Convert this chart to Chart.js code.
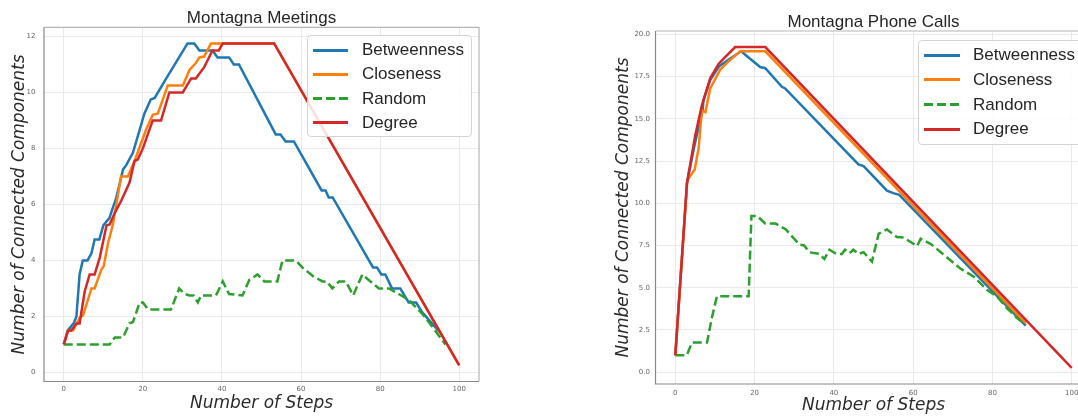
<!DOCTYPE html>
<html>
<head>
<meta charset="utf-8">
<script src="https://cdn.jsdelivr.net/npm/chart.js@4.4.1/dist/chart.umd.min.js"></script>
<style>
  html, body { margin: 0; padding: 0; width: 1078px; height: 416px; overflow: hidden; background: #fff; }
  canvas { position: absolute; top: 0; }
  .legend {
    position: absolute; box-sizing: border-box;
    border: 1px solid #d4d4d4; border-radius: 4px; background: rgba(255,255,255,0.85);
    font-family: "Liberation Sans", Arial, sans-serif; font-size: 17px; color: #262626;
  }
  .legend .swatch { position: absolute; height: 3px; }
  .legend .lbl { position: absolute; white-space: nowrap; line-height: 20px; height: 20px; }
</style>
</head>
<body>
<canvas id="meetings" width="540" height="416" style="left:0px"></canvas>
<canvas id="phone" width="560" height="416" style="left:560px"></canvas>
<div id="legendMeetings" class="legend"></div>
<div id="legendPhone" class="legend"></div>
<script>
// ── series names / colours (matplotlib tab10) ──
const SERIES = ['Betweenness', 'Closeness', 'Random', 'Degree'];
const COLORS = ['#1f77b4', '#ff7f0e', '#2ca02c', '#d62728'];

// ── shared x ticks ──
const STEP_TICKS = [0, 20, 40, 60, 80, 100];
const STEP_TICK_LABELS = ['0', '20', '40', '60', '80', '100'];

// ── Montagna Meetings ──
const MEET_Y_TICKS = [0, 2, 4, 6, 8, 10, 12];
const MEET_Y_TICK_LABELS = ['0', '2', '4', '6', '8', '10', '12'];

const meetBetweennessX = [0, 1, 2.5, 3.2, 4, 4.8, 6, 7, 7.8, 9, 10, 11.5, 13.3, 15, 15.8, 17.5, 20.4, 22, 23, 25.5, 31.3, 33, 34.3, 37.6, 38.9, 41.8, 43, 44.3, 53.6, 54.8, 56.1, 58.2, 65.2, 66.2, 67, 68, 78.2, 79.2, 80.3, 81.3, 83, 85.1, 87.2, 89.1, 90.6, 95];
const meetBetweennessY = [1, 1.5, 1.75, 2, 3.5, 4, 4, 4.25, 4.75, 4.75, 5.25, 5.5, 6.25, 7.25, 7.4, 7.85, 9.25, 9.75, 9.8, 10.4, 11.75, 11.75, 11.5, 11.5, 11.25, 11.25, 11, 11, 8.5, 8.5, 8.25, 8.25, 6.5, 6.5, 6.25, 6.25, 3.75, 3.75, 3.5, 3.5, 3, 3, 2.5, 2.5, 2.15, 1.45];

const meetClosenessX = [0, 1.1, 2.35, 4, 4.9, 7, 7.8, 9.5, 10.1, 11.2, 12.4, 14.5, 16.2, 17.9, 20.9, 22.5, 23.8, 26.3, 30.1, 31.8, 33.4, 34.3, 35.5, 37.2, 53.2, 100];
const meetClosenessY = [1, 1.5, 1.5, 1.95, 2.05, 3, 3, 3.67, 3.8, 4.62, 5.27, 7, 7, 7.55, 8.7, 9.2, 9.25, 10.25, 10.25, 10.8, 11.05, 11.25, 11.28, 11.75, 11.75, 0.25];

const meetRandomX = [0, 11.6, 12.9, 15, 16.6, 17.5, 19.2, 20, 21.3, 27.1, 29.2, 30.5, 31.8, 32.8, 33.9, 34.7, 38.5, 40.2, 41.8, 45.2, 46.9, 49, 50.7, 54, 55.3, 58.7, 60.3, 62.9, 65.4, 66.5, 67.9, 69.6, 71.3, 73.2, 75.5, 77.1, 79.7, 82.2, 84.7, 87.2, 90.6, 93.1, 96.5];
const meetRandomY = [1, 1, 1.25, 1.25, 1.75, 1.8, 2.5, 2.5, 2.25, 2.25, 3, 2.8, 2.75, 2.75, 2.5, 2.75, 2.75, 3.25, 2.8, 2.75, 3.3, 3.5, 3.25, 3.25, 4, 4, 3.75, 3.45, 3.25, 3.25, 3, 3.25, 3.25, 2.75, 3.5, 3.3, 3, 3, 2.8, 2.6, 2.1, 1.65, 1];

const meetDegreeX = [0, 1.1, 1.9, 3.2, 4, 5.3, 6.55, 7.8, 9.1, 10.8, 11.6, 12.9, 14.5, 16.6, 17.9, 18.7, 20, 22.5, 24.6, 26.7, 30.1, 32.2, 33.4, 35.5, 37.6, 39.2, 40.2, 53.2, 100];
const meetDegreeY = [1, 1.5, 1.5, 1.75, 1.75, 2.9, 3.5, 3.5, 4.1, 5.25, 5.28, 5.7, 6.12, 6.77, 7.55, 7.6, 8, 9, 9, 10, 10, 10.5, 10.5, 10.9, 11.5, 11.5, 11.75, 11.75, 0.25];

// ── Montagna Phone Calls ──
const PHONE_Y_TICKS = [0, 2.5, 5, 7.5, 10, 12.5, 15, 17.5, 20];
const PHONE_Y_TICK_LABELS = ['0.0', '2.5', '5.0', '7.5', '10.0', '12.5', '15.0', '17.5', '20.0'];

const phoneBetweennessX = [0, 2.94, 4.9, 6.9, 7.1, 8.8, 11, 13.4, 16.6, 21.4, 22.7, 26.9, 27.7, 46.2, 47.5, 53.4, 55, 56.5, 88.4];
const phoneBetweennessY = [1, 11.2, 13.5, 15.5, 16.1, 17.3, 18.1, 18.5, 19, 18.07, 18, 16.9, 16.8, 12.3, 12.2, 10.75, 10.6, 10.5, 2.75];

const phoneClosenessX = [0, 3, 3.4, 4.9, 5.9, 6.7, 7.6, 8.8, 11.3, 13.4, 16.4, 22.7, 88.4];
const phoneClosenessY = [1, 11.25, 11.5, 12, 13.3, 15.5, 15.4, 16.8, 17.9, 18.4, 19, 19, 2.9];

const phoneRandomX = [0, 2.9, 4.2, 8, 9.2, 10.5, 18.5, 19.2, 20.6, 22.7, 25.3, 27.9, 31.3, 32.5, 33.8, 36.4, 37.6, 38.9, 40.6, 42, 42.8, 44, 44.9, 46.2, 47.5, 49.6, 51.3, 53.4, 55.9, 57.6, 61, 61.9, 64.4, 66.9, 69.4, 71.9, 75.3, 78.7, 81.2, 83.7, 86.3, 88.4];
const phoneRandomY = [1, 1, 1.75, 1.75, 3.2, 4.5, 4.5, 9.25, 9.25, 8.8, 8.8, 8.45, 7.55, 7.5, 7.1, 7, 6.7, 7.25, 7, 7, 7.25, 7.05, 7.25, 7, 7.1, 6.54, 8.2, 8.45, 8, 7.97, 7.46, 7.9, 7.6, 7.12, 6.63, 6.14, 5.65, 4.86, 4.47, 3.78, 3.19, 2.8];

const phoneDegreeX = [0, 2.94, 5, 6.7, 8.8, 10.9, 13, 15.1, 22.7, 100];
const phoneDegreeY = [1, 11.2, 14, 15.8, 17.4, 18.25, 18.75, 19.25, 19.25, 0.25];

// ── helpers ──
const zip = (xs, ys) => xs.map((x, i) => ({ x: x, y: ys[i] }));

function makeDatasets(series) {
    // series in SERIES order; Degree drawn on top like matplotlib
    return series.map(([xs, ys], i) => ({
        label: SERIES[i],
        data: zip(xs, ys),
        borderColor: COLORS[i],
        backgroundColor: COLORS[i],
        borderWidth: 2.5,
        borderDash: SERIES[i] === 'Random' ? [9, 4] : [],
        pointRadius: 0,
        tension: 0,
        fill: false,
        order: series.length - i
    }));
}

// Frame round the plot area (darker left/bottom like the reference)
const framePlugin = {
    id: 'frame',
    afterDatasetsDraw(chart) {
        const { ctx, chartArea: a } = chart;
        ctx.save();
        ctx.lineWidth = 1.2;
        ctx.strokeStyle = '#b5b5b5';
        ctx.beginPath();
        ctx.moveTo(a.left, a.top); ctx.lineTo(a.right, a.top); ctx.lineTo(a.right, a.bottom);
        ctx.stroke();
        ctx.strokeStyle = '#888';
        ctx.beginPath();
        ctx.moveTo(a.left, a.top); ctx.lineTo(a.left, a.bottom); ctx.lineTo(a.right, a.bottom);
        ctx.stroke();
        ctx.restore();
    }
};

function buildChart(id, cfg) {
    const tickFont = { family: "'DejaVu Sans', sans-serif", size: 7 };
    const labelFont = { family: "'DejaVu Sans', sans-serif", size: 17, style: 'italic', lineHeight: 1.2 };
    return new Chart(document.getElementById(id), {
        type: 'line',
        data: { datasets: makeDatasets(cfg.series) },
        options: {
            responsive: false,
            animation: false,
            events: [],
            layout: { padding: { left: 0, right: cfg.padRight, top: 0, bottom: 0 } },
            scales: {
                x: {
                    type: 'linear', min: -5, max: 105,
                    afterBuildTicks: s => { s.ticks = STEP_TICKS.map(v => ({ value: v })); },
                    afterFit: s => { s.height = cfg.xHeight; },
                    ticks: { autoSkip: false, maxRotation: 0, padding: cfg.xTickPad, color: '#666', font: tickFont,
                             callback: (v, i) => STEP_TICK_LABELS[i] },
                    grid: { color: '#e9e9e9', lineWidth: 1, drawTicks: false },
                    border: { display: false },
                    title: { display: true, text: 'Number of Steps', color: '#2b2b2b', font: labelFont,
                             padding: { top: 0, bottom: cfg.xTitleBottom } }
                },
                y: {
                    type: 'linear', min: cfg.yMin, max: cfg.yMax,
                    afterBuildTicks: s => { s.ticks = cfg.yTicks.map(v => ({ value: v })); },
                    afterFit: s => { s.width = cfg.yWidth; },
                    ticks: { autoSkip: false, padding: cfg.yTickPad, color: '#666', font: tickFont,
                             callback: (v, i) => cfg.yTickLabels[i] },
                    grid: { color: '#e9e9e9', lineWidth: 1, drawTicks: false },
                    border: { display: false },
                    title: { display: true, text: 'Number of Connected Components', color: '#2b2b2b', font: labelFont,
                             padding: { top: cfg.yTitleTop, bottom: 0 } }
                }
            },
            plugins: {
                legend: { display: false },
                tooltip: { enabled: false },
                title: {
                    display: true, text: cfg.title, fullSize: false, color: '#262626',
                    font: { family: "'Liberation Sans', Arial, sans-serif", size: 17, weight: 'normal', lineHeight: 1 },
                    padding: { top: cfg.titleTop, bottom: cfg.titleBottom }
                }
            }
        },
        plugins: [framePlugin]
    });
}

// HTML legend built from the chart's own datasets (whole-pixel placement keeps swatches crisp)
function buildLegend(chart, elId, box) {
    const el = document.getElementById(elId);
    Object.assign(el.style, { left: box.left + 'px', top: box.top + 'px',
                              width: box.width + 'px', height: box.height + 'px' });
    chart.data.datasets.forEach((ds, i) => {
        const cy = box.firstRow + i * box.rowHeight;   // row centre, relative to box
        const sw = document.createElement('div');
        sw.className = 'swatch';
        sw.style.left = box.swLeft + 'px';
        sw.style.width = box.swWidth + 'px';
        sw.style.top = Math.round(cy - 1.5) + 'px';
        sw.style.background = ds.borderDash.length
            ? `repeating-linear-gradient(to right, ${ds.borderColor} 0 9px, transparent 9px 13px)`
            : ds.borderColor;
        const lbl = document.createElement('span');
        lbl.className = 'lbl';
        lbl.style.left = box.textLeft + 'px';
        lbl.style.top = Math.round(cy - 10) + 'px';
        lbl.textContent = ds.label;
        el.appendChild(sw);
        el.appendChild(lbl);
    });
}

const meetings = buildChart('meetings', {
    title: 'Montagna Meetings',
    series: [[meetBetweennessX, meetBetweennessY], [meetClosenessX, meetClosenessY],
             [meetRandomX, meetRandomY], [meetDegreeX, meetDegreeY]],
    yMin: -0.325, yMax: 12.325, yTicks: MEET_Y_TICKS, yTickLabels: MEET_Y_TICK_LABELS,
    padRight: 61, yWidth: 44, xHeight: 34.5, yTickPad: 8.5, xTickPad: 3.6,
    yTitleTop: 9.3, xTitleBottom: 1.8, titleTop: 10, titleBottom: 0.3
});

const phone = buildChart('phone', {
    title: 'Montagna Phone Calls',
    series: [[phoneBetweennessX, phoneBetweennessY], [phoneClosenessX, phoneClosenessY],
             [phoneRandomX, phoneRandomY], [phoneDegreeX, phoneDegreeY]],
    yMin: -0.7, yMax: 20.2, yTicks: PHONE_Y_TICKS, yTickLabels: PHONE_Y_TICK_LABELS,
    padRight: 28.5, yWidth: 95.5, xHeight: 32, yTickPad: 5.5, xTickPad: 4.5,
    yTitleTop: 53.8, xTitleBottom: 0.3, titleTop: 13.8, titleBottom: 0.2
});

buildLegend(meetings, 'legendMeetings', { left: 307, top: 35, width: 165, height: 102,
    firstRow: 14, rowHeight: 24.3, swLeft: 5, swWidth: 35, textLeft: 54 });
buildLegend(phone, 'legendPhone', { left: 918, top: 40, width: 166, height: 105,
    firstRow: 14, rowHeight: 24.8, swLeft: 5, swWidth: 36, textLeft: 54 });
</script>
</body>
</html>
